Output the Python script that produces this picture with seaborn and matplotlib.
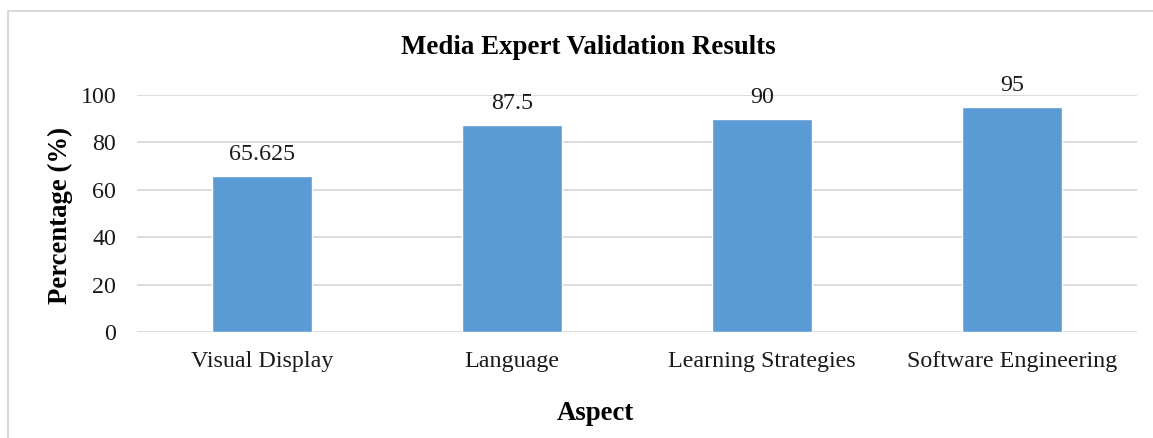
import matplotlib
matplotlib.use("Agg")
import matplotlib.pyplot as plt
from matplotlib.patches import Rectangle
import seaborn as sns
import pandas as pd

categories = ["Visual Display", "Language", "Learning Strategies", "Software Engineering"]
values = [65.625, 87.5, 90, 95]
value_labels = ["65.625", "87.5", "90", "95"]
yticks = [0, 20, 40, 60, 80, 100]

sns.set_theme(style="white")
plt.rcParams["font.family"] = ["Liberation Serif", "DejaVu Serif"]

df = pd.DataFrame({"Aspect": categories, "Percentage": values})

fig = plt.figure(figsize=(11.53, 4.38), dpi=100)
ax = fig.add_axes([137/1153, 1-332/438, 1000/1153, (332-95)/438])

for y in yticks:
    ax.axhline(y, color="#D9D9D9", lw=1.3, zorder=0)

sns.barplot(data=df, x="Aspect", y="Percentage", order=categories, color="#5B9BD5",
            saturation=1, width=0.4, ax=ax, zorder=2)

for i, (v, lab) in enumerate(zip(values, value_labels)):
    ax.annotate(lab, (i, v), xytext=(0, 8), textcoords="offset points",
                ha="center", va="bottom", fontsize=17.3, color="#1a1a1a")

ax.set_ylim(0, 100)
ax.set_xlim(-0.5, 3.5)
ax.set_yticks(yticks)
ax.tick_params(axis="both", length=0, labelsize=17.3, colors="#1a1a1a")
ax.tick_params(axis="x", pad=14)
ax.tick_params(axis="y", pad=15)
for s in ax.spines.values():
    s.set_visible(False)

ax.set_xlabel("")
ax.set_ylabel("")
fig.text(595/1153, 1-413/438, "Aspect", ha="center", va="center",
         fontsize=19.3, fontweight="bold", color="black")
fig.text(60/1153, 1-216/438, "Percentage (%)", ha="center", va="center", rotation=90,
         fontsize=19.3, fontweight="bold", color="black")

fig.text(588/1153, 1-48/438, "Media Expert Validation Results", ha="center", va="center",
         fontsize=19.4, fontweight="bold", color="black")

fig.patches.append(Rectangle((8/1153, -0.2), 1.2, 1.2 - 11/438, transform=fig.transFigure,
                             fill=False, edgecolor="#D9D9D9", lw=1.5))

fig.savefig("out.png", dpi=100)
